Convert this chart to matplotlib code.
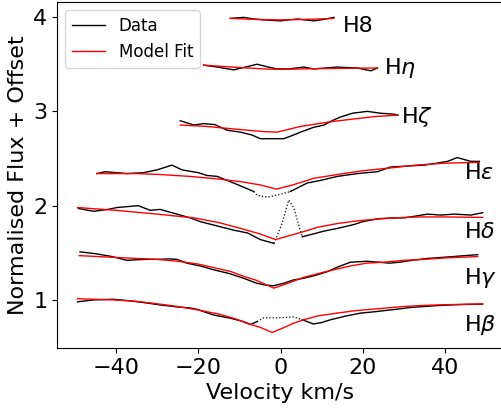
import numpy as np
import matplotlib
matplotlib.use('Agg')
import matplotlib.pyplot as plt

# line names
labels = ['H$\\beta$', 'H$\\gamma$', 'H$\\delta$', 'H$\\epsilon$', 'H$\\zeta$', 'H$\\eta$', 'H8']

# Hbeta
hb_vel = [-49.4, -45.5, -40.7, -36.6, -33, -29.3, -25, -22, -20.3, -16.3, -12.2, -9, -7.3, -5.7, -4.1, -1,
          1.5, 3.2, 5.3, 8.0, 10, 12.2, 16, 19.5, 23, 26, 29, 31.7, 35, 38.2, 42, 45, 49.2]
hb_flux = [0.98, 1.0, 1.007, 0.99, 0.97, 0.947, 0.925, 0.915, 0.90, 0.84, 0.806, 0.77, 0.74, 0.77, 0.81, 0.81,
           0.815, 0.82, 0.79, 0.745, 0.76, 0.79, 0.83, 0.86, 0.875, 0.89, 0.905, 0.92, 0.93, 0.94, 0.948, 0.952, 0.955]
hb_mvel = [-49.4, -40.7, -35, -29.3, -25, -20.3, -15, -11, -8.1, -5, -2.0, 1, 3, 5.7, 9, 13.8, 18, 22, 26, 30,
           34, 38.2, 43, 49.2]
hb_model = [1.013, 1.0, 0.985, 0.955, 0.93, 0.895, 0.85, 0.80, 0.75, 0.71, 0.655, 0.71, 0.75, 0.79, 0.83, 0.86,
            0.885, 0.90, 0.915, 0.93, 0.94, 0.947, 0.952, 0.958]
hb_mask = (-5.7, 5.3)

# Hgamma
hg_vel = [-48.8, -45, -41, -37.4, -33, -30, -27, -25.2, -22.8, -19.5, -16.3, -12.5, -9, -6, -4.1, -1.7, 1, 3,
          5.7, 8.5, 11.4, 14, 17, 21, 24, 26.5, 29, 32, 35.8, 39, 42, 45, 48]
hg_flux = [1.51, 1.49, 1.46, 1.42, 1.43, 1.43, 1.435, 1.43, 1.39, 1.36, 1.32, 1.28, 1.23, 1.18, 1.16, 1.15, 1.18,
           1.21, 1.23, 1.26, 1.30, 1.35, 1.40, 1.41, 1.40, 1.39, 1.40, 1.42, 1.44, 1.45, 1.46, 1.47, 1.48]
hg_mvel = [-49, -40, -30, -25, -20, -16, -12, -9, -6, -1.6, 2, 5.7, 11, 17, 21, 25, 30, 35, 40, 48]
hg_model = [1.47, 1.45, 1.43, 1.41, 1.38, 1.34, 1.30, 1.25, 1.21, 1.125, 1.18, 1.24, 1.30, 1.36, 1.39, 1.40,
            1.42, 1.43, 1.445, 1.46]
hg_mask = None

# Hdelta
hd_vel = [-49.2, -45.5, -42, -39.8, -34.6, -31.7, -29.3, -25.2, -22, -19.5, -15, -11.4, -8, -4.9, -1.6, 0.3,
          2.0, 3.2, 5.3, 8, 10.6, 14, 17.9, 20, 23.6, 27, 30, 33, 35.8, 39, 42.3, 46.3, 49.2]
hd_flux = [1.97, 1.94, 1.96, 1.98, 2.0, 1.95, 1.96, 1.91, 1.87, 1.83, 1.78, 1.74, 1.71, 1.64, 1.60, 1.80,
           2.06, 1.98, 1.67, 1.70, 1.73, 1.76, 1.80, 1.83, 1.86, 1.87, 1.87, 1.89, 1.91, 1.90, 1.91, 1.90, 1.925]
hd_mvel = [-49.4, -40, -30, -21, -15, -9.8, -5, -1.2, 2, 5.3, 9, 13.8, 19, 24.4, 30, 34, 40, 49.2]
hd_model = [1.98, 1.95, 1.91, 1.87, 1.82, 1.76, 1.70, 1.64, 1.68, 1.72, 1.77, 1.81, 1.84, 1.86, 1.875, 1.88,
            1.88, 1.875]
hd_mask = (-1.6, 5.3)

# Hepsilon
he_vel = [-44.7, -42.7, -40, -37.4, -33.3, -30, -26.4, -24, -22.8, -20, -17.9, -15.4, -11.4, -6.5, -5.7, -3.2,
          0, 2.4, 6.5, 10, 13.8, 18.7, 23.6, 26.8, 31, 35, 38, 40.7, 43, 46.3, 48.4]
he_flux = [2.34, 2.36, 2.35, 2.34, 2.35, 2.38, 2.43, 2.38, 2.37, 2.35, 2.32, 2.31, 2.24, 2.15, 2.11, 2.09,
           2.12, 2.15, 2.24, 2.27, 2.31, 2.34, 2.36, 2.41, 2.42, 2.43, 2.45, 2.47, 2.51, 2.47, 2.47]
he_mvel = [-44.7, -35, -29.3, -22, -14.6, -9, -5, -1, 3, 8.1, 13.8, 20, 26.8, 33, 40, 48.4]
he_model = [2.34, 2.34, 2.33, 2.31, 2.28, 2.25, 2.22, 2.175, 2.22, 2.29, 2.33, 2.37, 2.40, 2.43, 2.45, 2.46]
he_mask = (-6.5, 2.4)

# Hzeta
hz_vel = [-24.4, -21.1, -18.7, -16, -13, -9.8, -7, -4.9, -2, 0.8, 3.2, 4.9, 8, 10.6, 12.5, 14.6, 17.5, 21.1,
          24.4, 27.6, 28.6]
hz_flux = [2.90, 2.855, 2.87, 2.86, 2.80, 2.78, 2.75, 2.71, 2.71, 2.71, 2.75, 2.78, 2.83, 2.855, 2.90, 2.94,
           2.98, 3.0, 2.98, 2.97, 2.96]
hz_mvel = [-24.4, -18, -13, -8, -4, -0.8, 4.9, 12.2, 18, 23, 28.5]
hz_model = [2.855, 2.84, 2.82, 2.80, 2.785, 2.78, 2.84, 2.89, 2.92, 2.945, 2.96]
hz_mask = None

# Heta
hn_vel = [-18.7, -15.4, -11.4, -8.5, -5.7, -3, -0.8, 2, 5.7, 8.1, 11, 13.8, 16, 18.7, 22, 23.6]
hn_flux = [3.49, 3.47, 3.44, 3.47, 3.50, 3.47, 3.45, 3.45, 3.47, 3.45, 3.46, 3.47, 3.465, 3.46, 3.43, 3.46]
hn_mvel = [-18.7, -10, -4, 0, 5, 12, 23.6]
hn_model = [3.49, 3.465, 3.45, 3.445, 3.45, 3.455, 3.46]
hn_mask = None

# H8
h8_vel = [-12.2, -9, -6.5, -4.1, -2, 0, 2, 4.1, 6, 8.1, 10.5, 13]
h8_flux = [3.986, 3.997, 3.98, 3.97, 3.965, 3.96, 3.97, 3.98, 3.97, 3.96, 3.975, 3.997]
h8_mvel = [-12.2, -6, 0, 6, 13]
h8_model = [3.986, 3.975, 3.97, 3.975, 3.986]
h8_mask = None

# where the name of each line goes
label_x = [44.7, 44.7, 44.7, 44.7, 29.3, 25.2, 15.1]
label_y = [0.735, 1.23, 1.72, 2.35, 2.94, 3.46, 3.91]


def plot_line(ax, vel, flux, mvel, model, mask, first=False):
    vel = np.array(vel)
    flux = np.array(flux)
    if mask is None:
        ax.plot(vel, flux, color='k', lw=1.0, label='Data' if first else None)
    else:
        lo = vel <= mask[0]
        hi = vel >= mask[1]
        mid = (vel >= mask[0]) & (vel <= mask[1])
        ax.plot(vel[lo], flux[lo], color='k', lw=1.0, label='Data' if first else None)
        ax.plot(vel[hi], flux[hi], color='k', lw=1.0)
        ax.plot(vel[mid], flux[mid], color='k', lw=0.9, ls=':')
    ax.plot(mvel, model, color='r', lw=1.0, label='Model Fit' if first else None)


if __name__ == "__main__":
    plt.rcParams['font.size'] = 16

    fig = plt.figure(figsize=(5.01, 4.08), dpi=100)
    ax = fig.add_axes([57 / 501., 60 / 408., 447 / 501., 346 / 408.])

    lines = [(hb_vel, hb_flux, hb_mvel, hb_model, hb_mask),
             (hg_vel, hg_flux, hg_mvel, hg_model, hg_mask),
             (hd_vel, hd_flux, hd_mvel, hd_model, hd_mask),
             (he_vel, he_flux, he_mvel, he_model, he_mask),
             (hz_vel, hz_flux, hz_mvel, hz_model, hz_mask),
             (hn_vel, hn_flux, hn_mvel, hn_model, hn_mask),
             (h8_vel, h8_flux, h8_mvel, h8_model, h8_mask)]

    for i, (v, f, mv, m, mk) in enumerate(lines):
        plot_line(ax, v, f, mv, m, mk, first=(i == 0))
        ax.text(label_x[i], label_y[i], labels[i], fontsize=16, va='center', ha='left')

    ax.set_xlim(-54.4, 54.4)
    ax.set_ylim(0.49, 4.16)
    ax.set_xticks([-40, -20, 0, 20, 40])
    ax.set_yticks([1, 2, 3, 4])
    ax.set_xlabel('Velocity km/s', fontsize=16)
    ax.set_ylabel('Normalised Flux + Offset', fontsize=16)
    ax.tick_params(labelsize=16)
    ax.legend(loc='upper left', fontsize=12)

    plt.savefig('out.png', dpi=100)
